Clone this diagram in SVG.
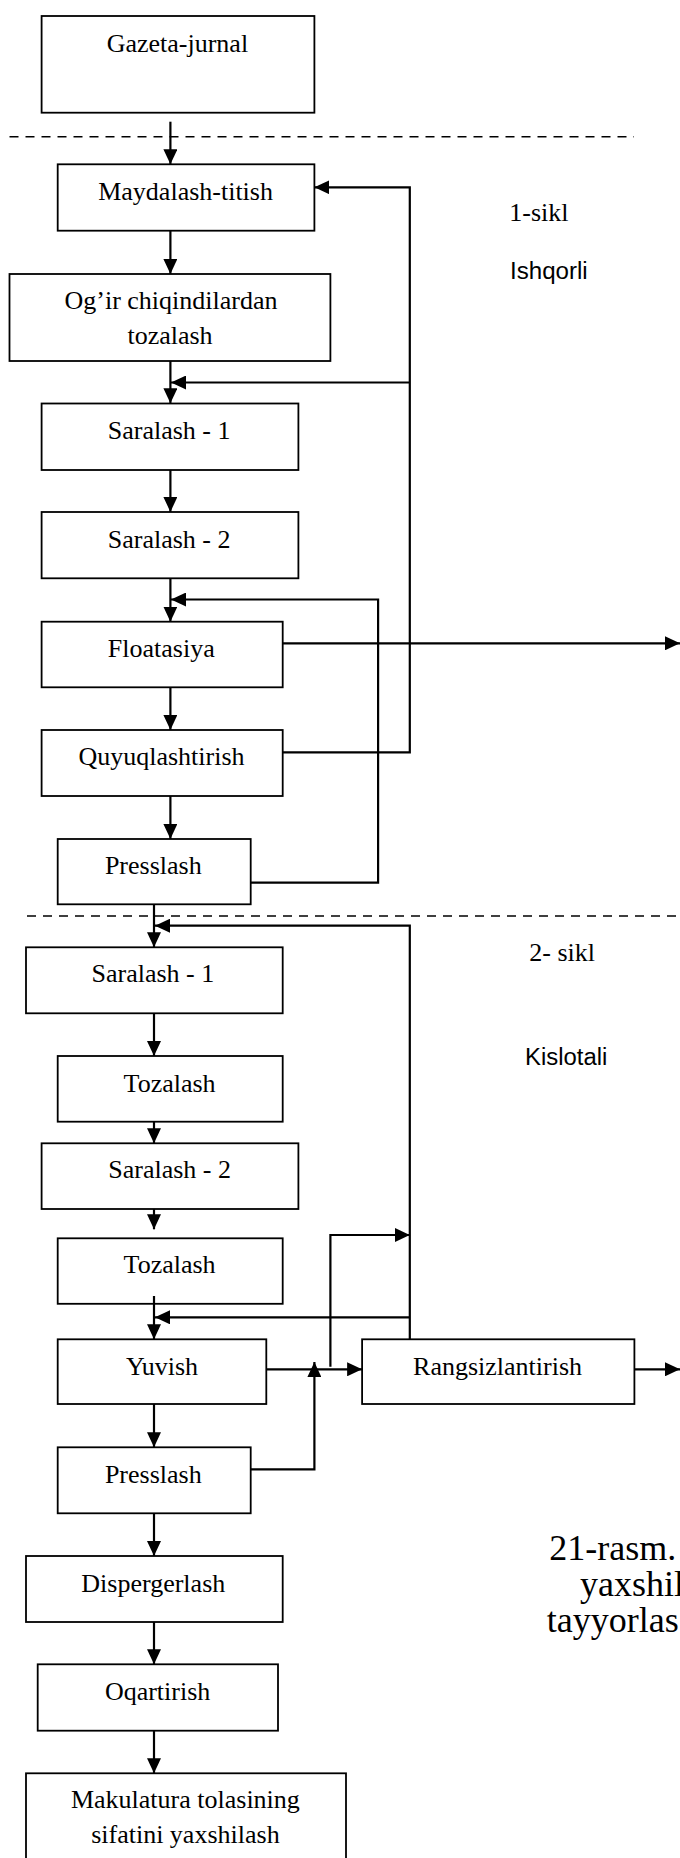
<svg xmlns="http://www.w3.org/2000/svg" width="680" height="1858" viewBox="0 0 680 1858">
<style>
.box{fill:#fff;stroke:#000;stroke-width:1.8}
.lbl{font-family:"Liberation Serif","Times New Roman",serif;font-size:26px;fill:#000;text-anchor:middle}
.side{font-family:"Liberation Serif","Times New Roman",serif;font-size:26px;fill:#000}
.sans{font-family:"Liberation Sans",Arial,sans-serif;font-size:23px;fill:#000}
.cap{font-family:"Liberation Serif","Times New Roman",serif;font-size:36px;fill:#000}
.c{fill:none;stroke:#000;stroke-width:2.2}
.dash{fill:none;stroke:#000;stroke-width:1.6;stroke-dasharray:9 7}
</style>
<defs>
<marker id="ah" markerUnits="userSpaceOnUse" markerWidth="16" markerHeight="14" refX="15" refY="7" orient="auto">
<path d="M0,0 L15,7 L0,14 z" fill="#000"/>
</marker>
</defs>
<rect width="680" height="1858" fill="#fff"/>

<g id="dividers">
<line class="dash" x1="9.5" y1="136.7" x2="634" y2="136.7"/>
<line class="dash" x1="27" y1="916" x2="680" y2="916"/>
</g>

<g id="n-gazeta"><rect class="box" x="41.6" y="16" width="272.8" height="96.7"/><text class="lbl" x="177.4" y="51.7">Gazeta-jurnal</text></g>
<g id="n-maydalash"><rect class="box" x="57.7" y="164.3" width="256.7" height="66.4"/><text class="lbl" x="185.6" y="200">Maydalash-titish</text></g>
<g id="n-ogir"><rect class="box" x="9.5" y="274" width="320.9" height="87"/><text class="lbl" x="171" y="309">Og’ir chiqindilardan</text><text class="lbl" x="170" y="343.5">tozalash</text></g>
<g id="n-saralash1a"><rect class="box" x="41.6" y="403.5" width="256.8" height="66.5"/><text class="lbl" x="169.1" y="439.3">Saralash - 1</text></g>
<g id="n-saralash2a"><rect class="box" x="41.6" y="512" width="256.8" height="66.3"/><text class="lbl" x="169.1" y="548.3">Saralash - 2</text></g>
<g id="n-floatasiya"><rect class="box" x="41.6" y="621.7" width="241.1" height="65.6"/><text class="lbl" x="161.3" y="656.7">Floatasiya</text></g>
<g id="n-quyuq"><rect class="box" x="41.6" y="730" width="241.1" height="66"/><text class="lbl" x="161.5" y="765">Quyuqlashtirish</text></g>
<g id="n-presslash1"><rect class="box" x="57.7" y="839" width="193" height="65.3"/><text class="lbl" x="153.3" y="874">Presslash</text></g>
<g id="n-saralash1b"><rect class="box" x="26" y="947.3" width="256.7" height="66"/><text class="lbl" x="152.9" y="981.7">Saralash - 1</text></g>
<g id="n-tozalash1"><rect class="box" x="57.7" y="1056" width="225" height="65.7"/><text class="lbl" x="169.6" y="1091.7">Tozalash</text></g>
<g id="n-saralash2b"><rect class="box" x="41.6" y="1143.3" width="256.8" height="65.7"/><text class="lbl" x="169.6" y="1178.3">Saralash - 2</text></g>
<g id="n-tozalash2"><rect class="box" x="57.7" y="1238.3" width="225" height="65.5"/><text class="lbl" x="169.6" y="1273.3">Tozalash</text></g>
<g id="n-yuvish"><rect class="box" x="57.7" y="1339.3" width="208.6" height="64.7"/><text class="lbl" x="162" y="1375">Yuvish</text></g>
<g id="n-rangsiz"><rect class="box" x="362.1" y="1339.3" width="272.3" height="64.7"/><text class="lbl" x="497.6" y="1375">Rangsizlantirish</text></g>
<g id="n-presslash2"><rect class="box" x="57.7" y="1447.3" width="193" height="66"/><text class="lbl" x="153.3" y="1482.7">Presslash</text></g>
<g id="n-disperger"><rect class="box" x="26" y="1556" width="256.7" height="66"/><text class="lbl" x="153.3" y="1591.7">Dispergerlash</text></g>
<g id="n-oqartirish"><rect class="box" x="37.7" y="1664.3" width="240.3" height="66.4"/><text class="lbl" x="157.6" y="1700">Oqartirish</text></g>
<g id="n-makulatura"><rect class="box" x="26" y="1773.3" width="320" height="100"/><text class="lbl" x="185.4" y="1808.3">Makulatura tolasining</text><text class="lbl" x="185.4" y="1843.3">sifatini yaxshilash</text></g>

<g id="labels">
<text class="side" x="509.3" y="220.7">1-sikl</text>
<text class="sans" x="510" y="279" textLength="77.7" lengthAdjust="spacingAndGlyphs">Ishqorli</text>
<text class="side" x="529.3" y="960.7">2- sikl</text>
<text class="sans" x="525" y="1065" textLength="82.3" lengthAdjust="spacingAndGlyphs">Kislotali</text>
<text class="cap" x="549.3" y="1559.5">21-rasm.</text>
<text class="cap" x="580" y="1595.5">yaxshil</text>
<text class="cap" x="546.7" y="1631.5">tayyorlas</text>
</g>

<g id="connectors">
<line class="c" x1="170.4" y1="121.7" x2="170.4" y2="164.3" marker-end="url(#ah)"/>
<line class="c" x1="170.4" y1="230.7" x2="170.4" y2="274" marker-end="url(#ah)"/>
<line class="c" x1="170.4" y1="361" x2="170.4" y2="403.3" marker-end="url(#ah)"/>
<path class="c" d="M409.8,382.5 H171" marker-end="url(#ah)"/>
<line class="c" x1="170.4" y1="470" x2="170.4" y2="512" marker-end="url(#ah)"/>
<line class="c" x1="170.4" y1="578.3" x2="170.4" y2="621.7" marker-end="url(#ah)"/>
<path class="c" d="M250.7,882.7 H378.1 V599.5 H171" marker-end="url(#ah)"/>
<path class="c" d="M282.7,752.3 H409.8 V187.3 H314.4" marker-end="url(#ah)"/>
<path class="c" d="M282.7,643.3 H680" marker-end="url(#ah)"/>
<line class="c" x1="170.4" y1="687.3" x2="170.4" y2="730" marker-end="url(#ah)"/>
<line class="c" x1="170.4" y1="796" x2="170.4" y2="839" marker-end="url(#ah)"/>
<line class="c" x1="154" y1="904.3" x2="154" y2="947.3" marker-end="url(#ah)"/>
<path class="c" d="M409.8,1339.3 V925.7 H155" marker-end="url(#ah)"/>
<path class="c" d="M409.8,1317.3 H155" marker-end="url(#ah)"/>
<line class="c" x1="154" y1="1013.3" x2="154" y2="1056" marker-end="url(#ah)"/>
<line class="c" x1="154" y1="1121.7" x2="154" y2="1143.3" marker-end="url(#ah)"/>
<line class="c" x1="154" y1="1209" x2="154" y2="1229.3" marker-end="url(#ah)"/>
<line class="c" x1="154" y1="1296" x2="154" y2="1339.3" marker-end="url(#ah)"/>
<path class="c" d="M266.3,1369.3 H362.1" marker-end="url(#ah)"/>
<path class="c" d="M250.7,1469.3 H314.4 V1362" marker-end="url(#ah)"/>
<path class="c" d="M330.4,1366.7 V1235 H409.8" marker-end="url(#ah)"/>
<path class="c" d="M634.4,1369.3 H680" marker-end="url(#ah)"/>
<line class="c" x1="154" y1="1404" x2="154" y2="1447.3" marker-end="url(#ah)"/>
<line class="c" x1="154" y1="1513.3" x2="154" y2="1556" marker-end="url(#ah)"/>
<line class="c" x1="154" y1="1622" x2="154" y2="1664.3" marker-end="url(#ah)"/>
<line class="c" x1="154" y1="1730.7" x2="154" y2="1773.3" marker-end="url(#ah)"/>
</g>
</svg>
